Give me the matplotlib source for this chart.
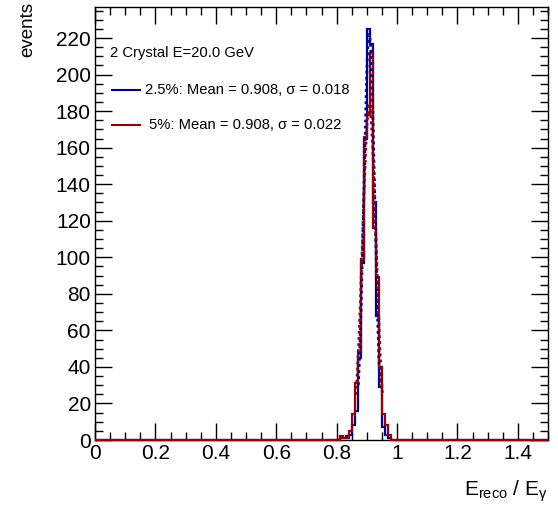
import numpy as np
import matplotlib
matplotlib.use("Agg")
import matplotlib.pyplot as plt
from matplotlib.lines import Line2D
from matplotlib.ticker import MultipleLocator

plt.rcParams['font.family'] = ['Liberation Sans', 'DejaVu Sans']
plt.rcParams['mathtext.fontset'] = 'custom'
plt.rcParams['mathtext.rm'] = 'Liberation Sans'
plt.rcParams['mathtext.it'] = 'Liberation Sans'

# ---- data ----
bin_width = 0.01
x_range = (0.0, 1.5)
first_bin = 0.80  # lower edge of first listed bin
counts_25 = [0, 1, 1, 2, 3, 8, 16, 45, 97, 165, 225, 217, 130, 68, 29, 7, 3, 1, 0]
counts_5 = [0, 2, 1, 1, 5, 14, 31, 48, 99, 166, 178, 212, 116, 89, 40, 14, 8, 3, 0]
fit_mean = [0.908, 0.908]
fit_sigma = [0.018, 0.022]
fit_amp = [222, 183]
labels = ["2.5%: Mean = 0.908, \u03c3 = 0.018", " 5%: Mean = 0.908, \u03c3 = 0.022"]
title = "2 Crystal E=20.0 GeV"
colors = ["#000099", "#990000"]

W, H = 558, 513
fig = plt.figure(figsize=(W / 100, H / 100), dpi=100)
L, R, T, B = 95, 548, 7, 440
ax = fig.add_axes([L / W, 1 - B / H, (R - L) / W, (B - T) / H])

nb = int(round((x_range[1] - x_range[0]) / bin_width))
edges = np.linspace(x_range[0], x_range[1], nb + 1)
i0 = int(round((first_bin - x_range[0]) / bin_width))

for cnts, col in zip([counts_25, counts_5], colors):
    full = np.zeros(nb)
    full[i0:i0 + len(cnts)] = cnts
    ax.stairs(full, edges, color=col, lw=1.6, zorder=3, clip_on=False, baseline=None)

for m, s, a, col in zip(fit_mean, fit_sigma, fit_amp, colors):
    xs = np.linspace(m - 2 * s, m + 2 * s, 200)
    ax.plot(xs, a * np.exp(-0.5 * ((xs - m) / s) ** 2), color=col, lw=2.0,
            ls=(0, (1, 1.2)), zorder=4)

ax.set_xlim(*x_range)
ax.set_ylim(0, 237)
ax.xaxis.set_minor_locator(MultipleLocator(0.05))
ax.yaxis.set_major_locator(MultipleLocator(20))
ax.yaxis.set_minor_locator(MultipleLocator(5))
ax.set_xticks(np.arange(0, 1.41, 0.2))
ax.set_xticklabels(["0", "0.2", "0.4", "0.6", "0.8", "1", "1.2", "1.4"])
ax.tick_params(which='both', direction='in', top=True, right=True, labelsize=15, width=1)
ax.tick_params(which='major', length=12)
ax.tick_params(which='minor', length=6)
ax.tick_params(axis='x', pad=3)
ax.tick_params(axis='y', pad=3)
for sp in ax.spines.values():
    sp.set_linewidth(1)

fig.text(28 / W, 1 - 2 / H, "events", rotation=90, ha='center', va='top', fontsize=13.5)
fig.text(548 / W, 1 - 496 / H, r"E$_{\mathrm{reco}}$ / E$_{\mathrm{\gamma}}$", ha='right',
         va='baseline', fontsize=15)

def fx(px):
    return px / W

def fy(py):
    return 1 - py / H

fig.text(fx(110), fy(53), title, ha='left', va='center', fontsize=10.6)
for yy, col, lab in zip([90, 125], colors, labels):
    fig.add_artist(Line2D([fx(112), fx(140)], [fy(yy), fy(yy)], color=col, lw=1.5))
    fig.text(fx(145), fy(yy), lab, ha='left', va='center', fontsize=10.6)

fig.savefig("out.png", dpi=100)
